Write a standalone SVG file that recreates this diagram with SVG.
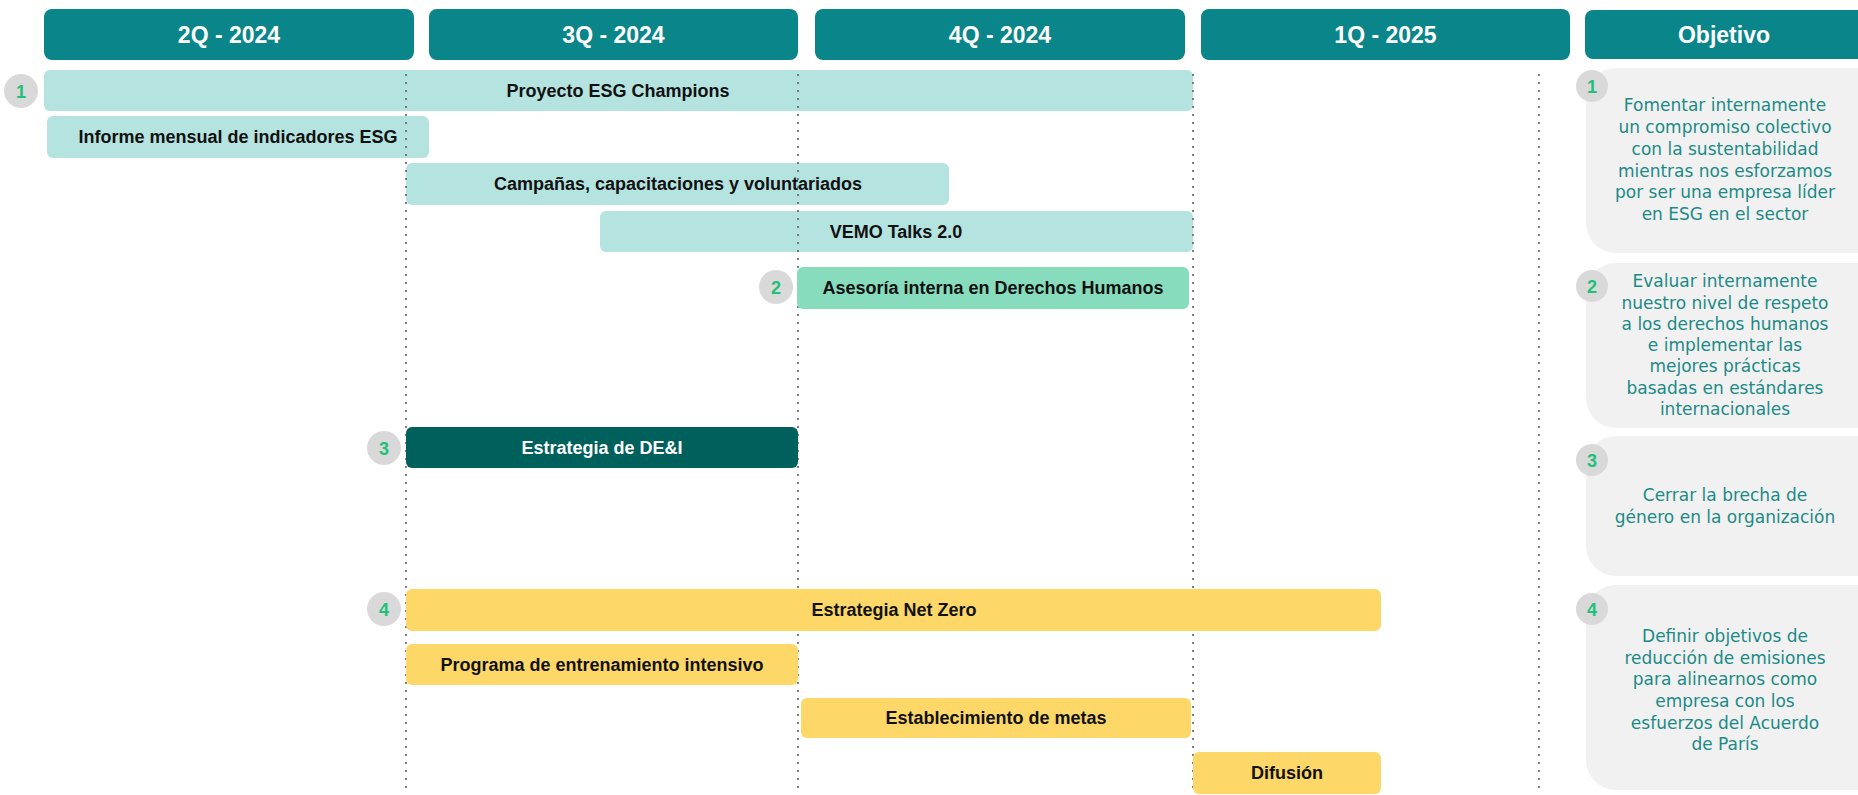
<svg xmlns="http://www.w3.org/2000/svg" width="1858" height="795" viewBox="0 0 1858 795">
<style>
.hdr{fill:#0a858a}
.htx{font-family:"Liberation Sans",Arial,sans-serif;font-weight:700;font-size:23px;fill:#fff;text-anchor:middle}
.lt{fill:#b5e3e0}
.mint{fill:#86dcbd}
.dk{fill:#00605c}
.yl{fill:#fdd868}
.lbl{font-family:"Liberation Sans",Arial,sans-serif;font-weight:700;font-size:18px;fill:#111;text-anchor:middle}
.lblw{font-family:"Liberation Sans",Arial,sans-serif;font-weight:700;font-size:18px;fill:#fff;text-anchor:middle}
.nc{fill:#d9d9d9}
.nt{font-family:"Liberation Sans",Arial,sans-serif;font-weight:700;font-size:18px;fill:#22bf79;text-anchor:middle}
.pan{fill:#f1f1f1}
.ot{font-family:"DejaVu Sans",sans-serif;font-size:17px;fill:#1c8a87;text-anchor:middle}
.grid{stroke:#555;stroke-width:2;stroke-dasharray:0 8;stroke-linecap:round;fill:none}
</style>

<g id="headers">
  <g id="h-2q"><rect class="hdr" x="44" y="9" width="370" height="51" rx="8"/><text class="htx" x="229" y="43">2Q - 2024</text></g>
  <g id="h-3q"><rect class="hdr" x="429" y="9" width="369" height="51" rx="8"/><text class="htx" x="613.5" y="43">3Q - 2024</text></g>
  <g id="h-4q"><rect class="hdr" x="815" y="9" width="370" height="51" rx="8"/><text class="htx" x="1000" y="43">4Q - 2024</text></g>
  <g id="h-1q"><rect class="hdr" x="1201" y="9" width="369" height="51" rx="8"/><text class="htx" x="1385.5" y="43">1Q - 2025</text></g>
  <g id="h-obj"><rect class="hdr" x="1585" y="10" width="300" height="49" rx="8"/><text class="htx" x="1724" y="43">Objetivo</text></g>
</g>

<g id="bars-light">
  <g id="bar-esg-champions"><rect class="lt" x="44" y="70" width="1149" height="41" rx="6"/><text class="lbl" x="618" y="97">Proyecto ESG Champions</text></g>
  <g id="bar-informe"><rect class="lt" x="47" y="116" width="382" height="42" rx="6"/><text class="lbl" x="238" y="143">Informe mensual de indicadores ESG</text></g>
  <g id="bar-campanas"><rect class="lt" x="406" y="163" width="543" height="42" rx="6"/><text class="lbl" x="678" y="190">Campañas, capacitaciones y voluntariados</text></g>
  <g id="bar-vemo"><rect class="lt" x="600" y="211" width="593" height="41" rx="6"/><text class="lbl" x="896" y="238">VEMO Talks 2.0</text></g>
</g>

<g id="connectors">
  <line class="grid" x1="406" y1="75" x2="406" y2="795"/>
  <line class="grid" x1="798" y1="75" x2="798" y2="795"/>
  <line class="grid" x1="1193" y1="75" x2="1193" y2="795"/>
  <line class="grid" x1="1539" y1="75" x2="1539" y2="795"/>
</g>

<g id="bars">
  <g id="bar-ddhh"><rect class="mint" x="797" y="267" width="392" height="42" rx="6"/><text class="lbl" x="993" y="294">Asesoría interna en Derechos Humanos</text></g>
  <g id="bar-dei"><rect class="dk" x="406" y="427" width="392" height="41" rx="6"/><text class="lblw" x="602" y="454">Estrategia de DE&amp;I</text></g>
  <g id="bar-netzero"><rect class="yl" x="406" y="589" width="975" height="42" rx="6"/><text class="lbl" x="894" y="616">Estrategia Net Zero</text></g>
  <g id="bar-programa"><rect class="yl" x="406" y="644" width="392" height="41" rx="6"/><text class="lbl" x="602" y="671">Programa de entrenamiento intensivo</text></g>
  <g id="bar-metas"><rect class="yl" x="801" y="698" width="390" height="40" rx="6"/><text class="lbl" x="996" y="724">Establecimiento de metas</text></g>
  <g id="bar-difusion"><rect class="yl" x="1193" y="752" width="188" height="42" rx="6"/><text class="lbl" x="1287" y="779">Difusión</text></g>
</g>

<g id="bar-numbers">
  <g id="n1"><circle class="nc" cx="21" cy="91" r="17"/><text class="nt" x="21" y="97.5">1</text></g>
  <g id="n2"><circle class="nc" cx="776" cy="287" r="17"/><text class="nt" x="776" y="293.5">2</text></g>
  <g id="n3"><circle class="nc" cx="384" cy="448" r="17"/><text class="nt" x="384" y="454.5">3</text></g>
  <g id="n4"><circle class="nc" cx="384" cy="609" r="17"/><text class="nt" x="384" y="615.5">4</text></g>
</g>

<g id="objectives">
  <g id="obj-1">
    <rect class="pan" x="1586" y="68" width="300" height="185" rx="30"/>
    <circle class="nc" cx="1592" cy="86" r="16"/><text class="nt" x="1592" y="92.5">1</text>
    <text class="ot" x="1725" y="111">Fomentar internamente</text>
    <text class="ot" x="1725" y="133">un compromiso colectivo</text>
    <text class="ot" x="1725" y="155">con la sustentabilidad</text>
    <text class="ot" x="1725" y="177">mientras nos esforzamos</text>
    <text class="ot" x="1725" y="198">por ser una empresa líder</text>
    <text class="ot" x="1725" y="220">en ESG en el sector</text>
  </g>
  <g id="obj-2">
    <rect class="pan" x="1586" y="263" width="300" height="165" rx="30"/>
    <circle class="nc" cx="1592" cy="286" r="16"/><text class="nt" x="1592" y="292.5">2</text>
    <text class="ot" x="1725" y="287">Evaluar internamente</text>
    <text class="ot" x="1725" y="309">nuestro nivel de respeto</text>
    <text class="ot" x="1725" y="330">a los derechos humanos</text>
    <text class="ot" x="1725" y="351">e implementar las</text>
    <text class="ot" x="1725" y="372">mejores prácticas</text>
    <text class="ot" x="1725" y="394">basadas en estándares</text>
    <text class="ot" x="1725" y="415">internacionales</text>
  </g>
  <g id="obj-3">
    <rect class="pan" x="1586" y="436" width="300" height="140" rx="30"/>
    <circle class="nc" cx="1592" cy="460" r="16"/><text class="nt" x="1592" y="466.5">3</text>
    <text class="ot" x="1725" y="501">Cerrar la brecha de</text>
    <text class="ot" x="1725" y="522.5">género en la organización</text>
  </g>
  <g id="obj-4">
    <rect class="pan" x="1586" y="585" width="300" height="205" rx="30"/>
    <circle class="nc" cx="1592" cy="609" r="16"/><text class="nt" x="1592" y="615.5">4</text>
    <text class="ot" x="1725" y="642">Definir objetivos de</text>
    <text class="ot" x="1725" y="663.5">reducción de emisiones</text>
    <text class="ot" x="1725" y="685">para alinearnos como</text>
    <text class="ot" x="1725" y="707">empresa con los</text>
    <text class="ot" x="1725" y="728.5">esfuerzos del Acuerdo</text>
    <text class="ot" x="1725" y="750">de París</text>
  </g>
</g>
</svg>
